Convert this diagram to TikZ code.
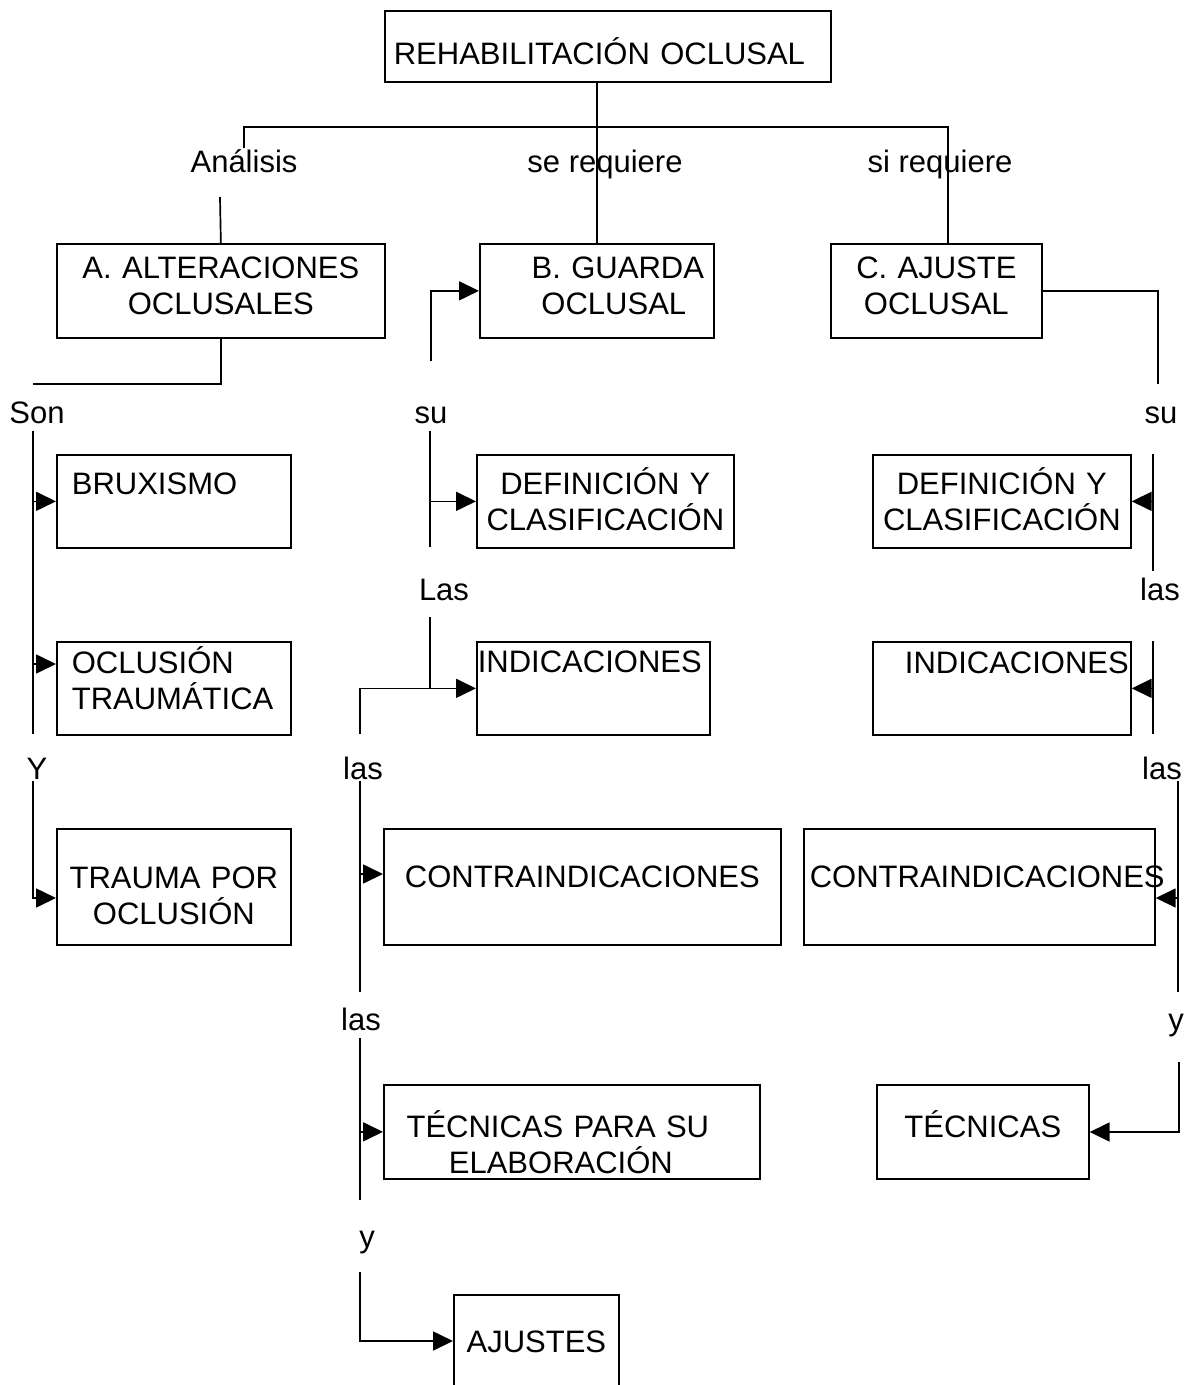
\documentclass[tikz,border=0pt]{standalone}
\usepackage{fontspec}
\setmainfont{Liberation Sans}
\usetikzlibrary{arrows.meta}
\uchyph=0

\tikzset{
  box/.style={draw, rectangle, anchor=north west, inner ysep=0pt},
  lbl/.style={inner sep=0pt, anchor=base},
}

\begin{document}
\begin{tikzpicture}[x=1pt,y=-1pt,line width=1.7pt,>={Triangle[length=20pt,width=19pt]},
    every node/.style={font=\fontsize{31}{36}\selectfont}]
    \useasboundingbox (0,0) rectangle (1192,1385);
    \clip (0,0) rectangle (1192,1385);

    % main boxes
    \node[box,minimum width=446pt,minimum height=71pt,inner xsep=9pt,text width=428pt,align=left,text height=37pt,text depth=0pt] (rehab) at (384,10) {REHABILITACIÓN OCLUSAL};
    \node[box,minimum width=328pt,minimum height=94pt,inner xsep=4pt,text width=320pt,align=center,text height=0pt,text depth=24pt] (alt) at (56,243) {A. ALTERACIONES\\OCLUSALES};
    \node[box,minimum width=234pt,minimum height=94pt,inner xsep=5pt,text width=224pt,align=center,text height=0pt,text depth=24pt] (guarda) at (479,243) {\hspace*{42pt}B. GUARDA\\\hspace*{34pt}OCLUSAL};
    \node[box,minimum width=211pt,minimum height=94pt,inner xsep=4pt,text width=203pt,align=center,text height=0pt,text depth=24pt] (ajuste) at (830,243) {C. AJUSTE\\OCLUSAL};

    % column A
    \node[box,minimum width=234pt,minimum height=93pt,inner xsep=15pt,text width=204pt,align=left,text height=0pt,text depth=13pt] (brux) at (56,454) {BRUXISMO};
    \node[box,minimum width=234pt,minimum height=93pt,inner xsep=15pt,text width=204pt,align=left,text height=0pt,text depth=29pt] (oclus) at (56,641) {OCLUSIÓN\\TRAUMÁTICA};
    \node[box,minimum width=234pt,minimum height=116pt,inner xsep=4pt,text width=226pt,align=center,text height=4pt,text depth=0pt] (trauma) at (56,828) {TRAUMA POR\\OCLUSIÓN};

    % column B
    \node[box,minimum width=257pt,minimum height=93pt,inner xsep=3pt,text width=251pt,align=center,text height=0pt,text depth=13pt] (defb) at (476,454) {DEFINICIÓN Y\\CLASIFICACIÓN};
    \node[box,minimum width=233pt,minimum height=93pt,inner xsep=1pt,text width=231pt,align=left,text height=0pt,text depth=31pt] (indb) at (476,641) {INDICACIONES};
    \node[box,minimum width=397pt,minimum height=116pt,inner xsep=4pt,text width=389pt,align=center,text height=2pt,text depth=0pt] (contb) at (383,828) {CONTRAINDICACIONES};
    \node[box,minimum width=376pt,minimum height=94pt,inner xsep=4pt,text width=368pt,align=center,text height=12pt,text depth=0pt] (tecb) at (383,1084) {\hspace*{-28pt}TÉCNICAS PARA SU\\\hspace*{-22pt}ELABORACIÓN};
    \node[box,minimum width=165pt,minimum height=110pt,inner xsep=4pt,text width=157pt,align=center,text height=6pt,text depth=0pt] (ajs) at (453,1294) {AJUSTES};

    % column C
    \node[box,minimum width=258pt,minimum height=93pt,inner xsep=3pt,text width=252pt,align=center,text height=0pt,text depth=13pt] (defc) at (872,454) {DEFINICIÓN Y\\CLASIFICACIÓN};
    \node[box,minimum width=258pt,minimum height=93pt,inner xsep=2pt,text width=254pt,align=right,text height=0pt,text depth=29pt] (indc) at (872,641) {INDICACIONES};
    \node[box,minimum width=351pt,minimum height=116pt,inner xsep=6pt,text width=339pt,align=left,text height=2pt,text depth=0pt] (contc) at (803,828) {CONTRAINDICACIONES};
    \node[box,minimum width=212pt,minimum height=94pt,inner xsep=4pt,text width=204pt,align=center,text height=12pt,text depth=0pt] (tecc) at (876,1084) {TÉCNICAS};

    % link words
    \node[lbl] (an) at (244,172) {Análisis};
    \node[lbl] (sereq) at (605,172) {se requiere};
    \node[lbl] (sireq) at (940,172) {si requiere};
    \node[lbl] (son) at (37,423) {Son};
    \node[lbl] (sub) at (431,423) {su};
    \node[lbl] (suc) at (1161,423) {su};
    \node[lbl] (lasb) at (444,600) {Las};
    \node[lbl] (lasc) at (1160,600) {las};
    \node[lbl] (yy) at (37,779) {Y};
    \node[lbl] (lasb2) at (363,779) {las};
    \node[lbl] (lasc2) at (1162,779) {las};
    \node[lbl] (lasb3) at (361,1030) {las};
    \node[lbl] (yc) at (1176,1030) {y};
    \node[lbl] (yb) at (367,1247) {y};

    % line ends and bends
    \coordinate (barL) at (244,127);
    \coordinate (barR) at (948,127);
    \coordinate (aTop) at (220,197);
    \coordinate (sonEnd) at (33,384);
    \coordinate (sonTop) at (33,431);
    \coordinate (sonBot) at (33,734);
    \coordinate (k1) at (33,664);
    \coordinate (yTop) at (33,781);
    \coordinate (yEnd) at (33,898);
    \coordinate (suUp) at (431,361);
    \coordinate (bS1) at (430,431);
    \coordinate (bS2) at (430,547);
    \coordinate (bL1) at (430,617);
    \coordinate (bL2) at (360,734);
    \coordinate (bM1) at (360,781);
    \coordinate (bM2) at (360,992);
    \coordinate (bM3) at (360,874);
    \coordinate (bN1) at (360,1038);
    \coordinate (bN2) at (360,1200);
    \coordinate (bY1) at (360,1272);
    \coordinate (bY2) at (360,1341);
    \coordinate (cOut) at (1158,384);
    \coordinate (cS1) at (1153,454);
    \coordinate (cS2) at (1153,571);
    \coordinate (cL1) at (1153,641);
    \coordinate (cL2) at (1153,734);
    \coordinate (cM1) at (1178,781);
    \coordinate (cM2) at (1178,992);
    \coordinate (cM3) at (1178,898);
    \coordinate (cY1) at (1179,1062);
    \coordinate (cY2) at (1179,1132);

    % top part
    \draw (guarda.north) -- (guarda.north |- rehab.south);
    \draw (an.north) -- (barL) -- (barR) -- (barR |- ajuste.north);
    \draw (aTop) -- (alt.north);
    \draw (alt.south) |- (sonEnd);
    \draw[->] (suUp) |- (guarda.west);
    \draw (ajuste.east) -| (cOut);

    % column A
    \draw (sonTop) -- (sonBot);
    \draw[->] (sonTop |- brux.west) -- (brux.west);
    \draw[->] (k1) -- (k1 -| oclus.west);
    \draw[->] (yTop) -- (yEnd) -- (yEnd -| trauma.west);

    % column B
    \draw (bS1) -- (bS2);
    \draw[->] (bS1 |- defb.west) -- (defb.west);
    \draw (bL1) -- (bL1 |- indb.west);
    \draw[->] (bL2) |- (indb.west);
    \draw (bM1) -- (bM2);
    \draw[->] (bM3) -- (bM3 -| contb.west);
    \draw (bN1) -- (bN2);
    \draw[->] (bN1 |- tecb.west) -- (tecb.west);
    \draw[->] (bY1) |- (bY2 -| ajs.west);

    % column C
    \draw (cS1) -- (cS2);
    \draw[->] (cS1 |- defc.east) -- (defc.east);
    \draw (cL1) -- (cL2);
    \draw[->] (cL1 |- indc.east) -- (indc.east);
    \draw (cM1) -- (cM2);
    \draw[->] (cM3) -- (cM3 -| contc.east);
    \draw[->] (cY1) |- (cY2 -| tecc.east);
\end{tikzpicture}
\end{document}
